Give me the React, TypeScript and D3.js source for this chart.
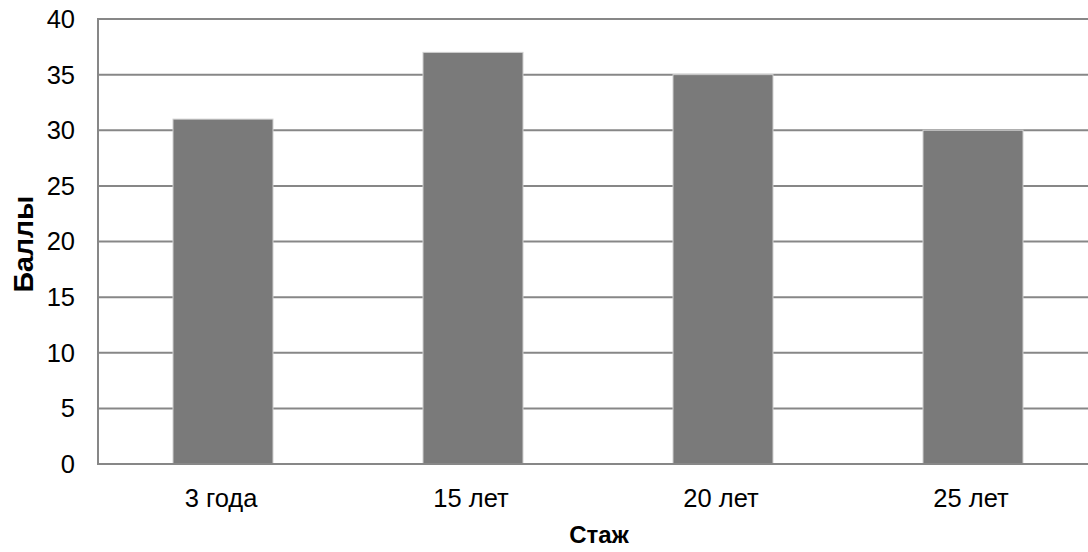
import React from "react";
import * as d3 from "d3";

const categories = ["3 года", "15 лет", "20 лет", "25 лет"];
const values = [31, 37, 35, 30];
const yTicks = [0, 5, 10, 15, 20, 25, 30, 35, 40];
const yTitle = "Баллы";
const xTitle = "Стаж";

export default function App() {
  const W = 1088, H = 552;
  const left = 98, right = 1098, top = 19, bottom = 464;
  const x = d3.scaleBand<string>().domain(categories).range([left, right]).paddingInner(0.6).paddingOuter(0.3);
  const y = d3.scaleLinear().domain([0, 40]).range([bottom, top]);
  const font = "'Liberation Sans', Arial, sans-serif";
  const fs = 25.5;
  return (
    <div style={{ position: "absolute", left: 0, top: 0 }}>
      <svg width={W} height={H} style={{ display: "block", background: "#fff" }}>
        {yTicks.map((t) => (
          <g key={t}>
            <line x1={left} x2={right} y1={y(t)} y2={y(t)} stroke="#878787" strokeWidth={2} />
            <text x={75} y={y(t)} dy="0.35em" textAnchor="end" fontFamily={font} fontSize={fs} fill="#000">
              {t}
            </text>
          </g>
        ))}
        {categories.map((c, i) => (
          <rect key={c} x={x(c)} y={y(values[i])} width={x.bandwidth()} height={bottom - y(values[i])}
            fill="#7a7a7a" stroke="#d0d0d0" strokeWidth={1} />
        ))}
        <line x1={left} x2={left} y1={top - 1} y2={bottom + 1} stroke="#878787" strokeWidth={2} />
        <line x1={left - 1} x2={right} y1={bottom} y2={bottom} stroke="#878787" strokeWidth={2} />
        {categories.map((c) => (
          <text key={c} x={(x(c) as number) + x.bandwidth() / 2 - 2} y={498} dy="0.35em" textAnchor="middle"
            fontFamily={font} fontSize={fs} fill="#000">
            {c}
          </text>
        ))}
        <text x={599} y={535} dy="0.35em" textAnchor="middle" fontFamily={font} fontSize={24} fontWeight="bold" fill="#000">
          {xTitle}
        </text>
        <text transform={`translate(23, 244) rotate(-90)`} dy="0.35em" textAnchor="middle"
          fontFamily={font} fontSize={28.5} fontWeight="bold" fill="#000">
          {yTitle}
        </text>
      </svg>
    </div>
  );
}
